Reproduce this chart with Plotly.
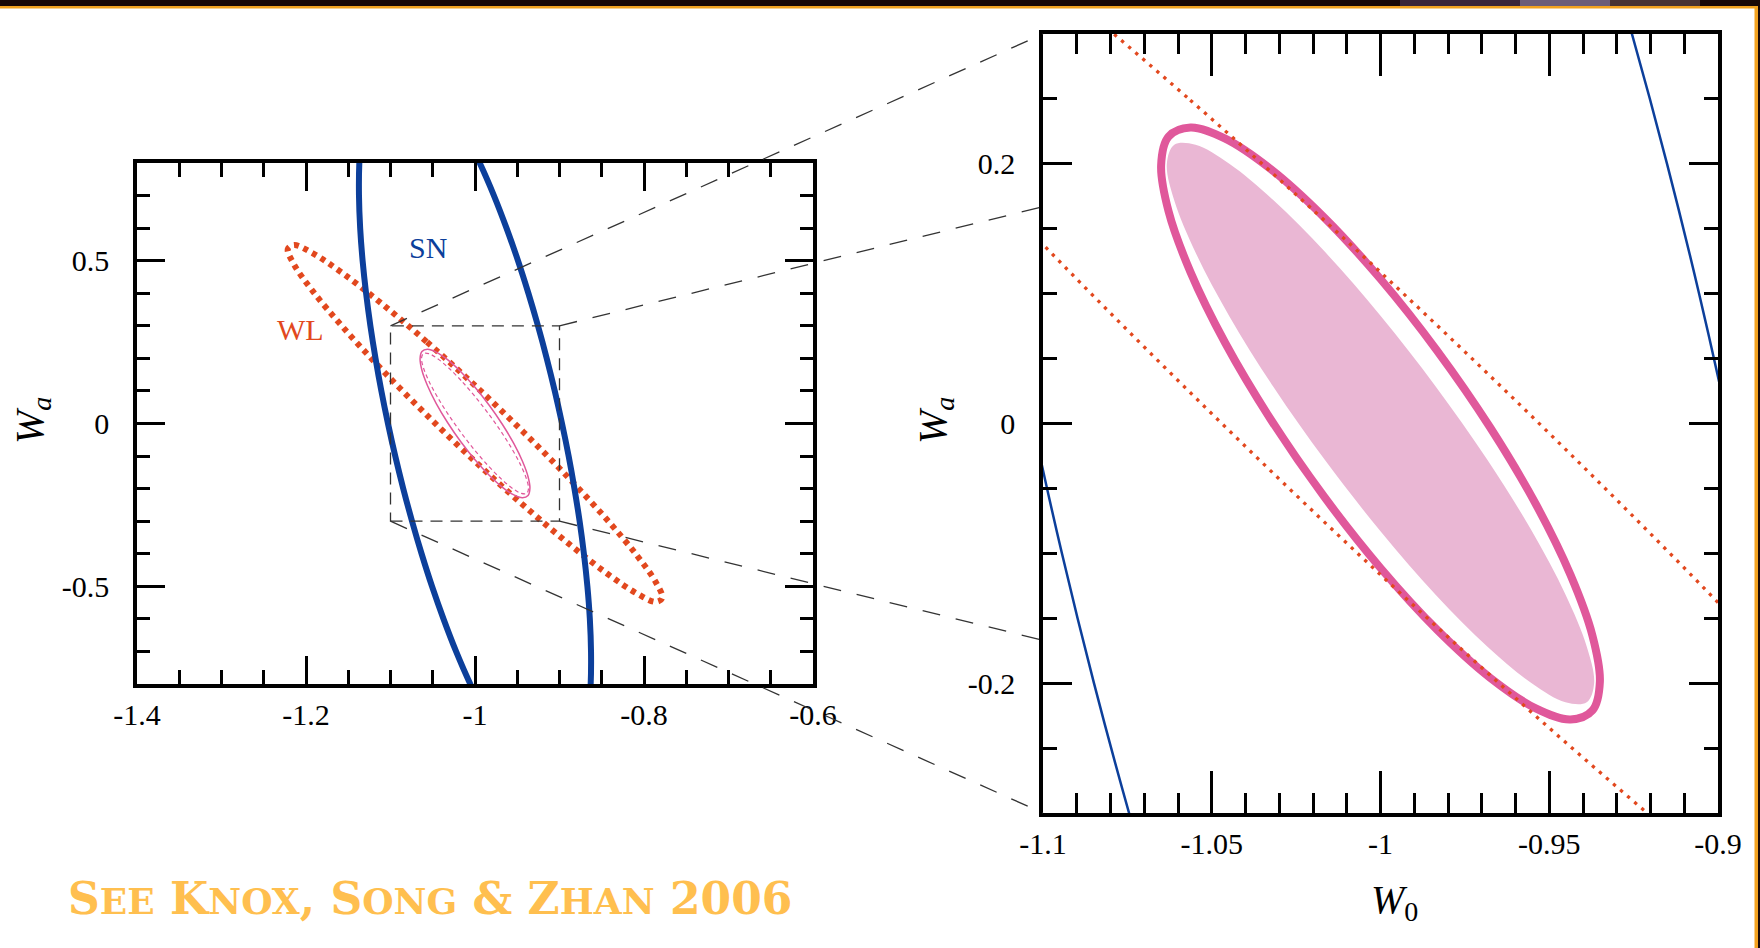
import plotly.graph_objects as go

# --- DATA (w0 on x, wa on y) ---
ZOOM_W0 = [-1.1, -0.9]  # zoom window on the left panel = ranges of the right panel
ZOOM_WA = [-0.3, 0.3]
LEFT_W0 = [-1.4, -0.6]
LEFT_WA = [-0.8, 0.8]

# SN: two long flanks of a very thin ellipse (its tips fall outside the plot)
sn_wa = [0.9, 0.8, 0.7, 0.6, 0.5, 0.4, 0.3, 0.2, 0.1, 0.0,
         -0.1, -0.2, -0.3, -0.4, -0.5, -0.6, -0.7, -0.8, -0.9]
sn_left_w0 = [-1.134, -1.1369, -1.1373, -1.1359, -1.133, -1.1289, -1.1238, -1.1177, -1.1108, -1.103,
              -1.0944, -1.0849, -1.0745, -1.0632, -1.0509, -1.0373, -1.0224, -1.0056, -0.9862]
sn_right_w0 = [-1.0138, -0.9944, -0.9776, -0.9627, -0.9491, -0.9368, -0.9255, -0.9151, -0.9056, -0.897,
               -0.8892, -0.8823, -0.8762, -0.8711, -0.867, -0.8641, -0.8627, -0.8631, -0.866]

# WL contour
wl_w0 = [-1.0, -1.0573, -1.1108, -1.1566, -1.1918, -1.214, -1.2215, -1.214, -1.1918, -1.1566,
         -1.1108, -1.0573, -1.0, -0.9427, -0.8892, -0.8434, -0.8082, -0.786, -0.7785, -0.786,
         -0.8082, -0.8434, -0.8892, -0.9427, -1.0]
wl_wa = [0.1165, 0.2512, 0.3689, 0.4614, 0.5225, 0.5479, 0.536, 0.4876, 0.4059, 0.2966,
         0.1671, 0.0262, -0.1165, -0.2512, -0.3689, -0.4614, -0.5225, -0.5479, -0.536, -0.4876,
         -0.4059, -0.2966, -0.1671, -0.0262, 0.1165]

# combined SN+WL contour (solid / thick pink)
comb_w0 = [-1.0, -1.0168, -1.0325, -1.046, -1.0563, -1.0628, -1.065, -1.0628, -1.0563, -1.046,
           -1.0325, -1.0168, -1.0, -0.9832, -0.9675, -0.954, -0.9437, -0.9372, -0.935, -0.9372,
           -0.9437, -0.954, -0.9675, -0.9832, -1.0]
comb_wa = [0.1113, 0.159, 0.1959, 0.2194, 0.228, 0.221, 0.199, 0.1634, 0.1166, 0.062,
           0.0031, -0.056, -0.1113, -0.159, -0.1959, -0.2194, -0.228, -0.221, -0.199, -0.1634,
           -0.1166, -0.062, -0.0031, 0.056, 0.1113]

# second combined contour (dashed on the left, filled on the right)
comb2_w0 = [-1.0, -1.0164, -1.0317, -1.0448, -1.0548, -1.0611, -1.0633, -1.0611, -1.0548, -1.0448,
            -1.0317, -1.0164, -1.0, -0.9836, -0.9683, -0.9552, -0.9452, -0.9389, -0.9367, -0.9389,
            -0.9452, -0.9552, -0.9683, -0.9836, -1.0]
comb2_wa = [0.083, 0.132, 0.1719, 0.2001, 0.2147, 0.2147, 0.2, 0.1717, 0.1317, 0.0827,
            0.0281, -0.0284, -0.083, -0.132, -0.1719, -0.2001, -0.2147, -0.2147, -0.2, -0.1717,
            -0.1317, -0.0827, -0.0281, 0.0284, 0.083]

left_xticks = [-1.4, -1.2, -1.0, -0.8, -0.6]
left_xlabels = ["-1.4", "-1.2", "-1", "-0.8", "-0.6"]
left_yticks = [-0.5, 0, 0.5]
left_ylabels = ["-0.5", "0", "0.5"]
right_xticks = [-1.1, -1.05, -1.0, -0.95, -0.9]
right_xlabels = ["-1.1", "-1.05", "-1", "-0.95", "-0.9"]
right_yticks = [-0.2, 0, 0.2]
right_ylabels = ["-0.2", "0", "0.2"]

# where the zoom connectors land on the right panel's left edge
connector_wa = [0.3, 0.167, -0.167, -0.3]

# --- STYLE / LAYOUT ---
FW, FH = 1760, 948
LEFT_PX = (137, 813, 163, 684)  # left, right, top, bottom (pixels)
RIGHT_PX = (1043, 1718, 34, 813)
BLUE = "#0c3f9b"
ORANGE = "#e2481e"
PINK = "#e0589b"
PINK_FILL = "#eab7d4"
SERIF = "Liberation Serif"


def xdom(box):
    return [box[0] / FW, box[1] / FW]


def ydom(box):
    return [1 - box[3] / FH, 1 - box[2] / FH]


def to_paper(x, y, box, xr, yr):
    px = box[0] + (x - xr[0]) / (xr[1] - xr[0]) * (box[1] - box[0])
    py = box[3] - (y - yr[0]) / (yr[1] - yr[0]) * (box[3] - box[2])
    return px / FW, 1 - py / FH


def frame(dom, rng, vals, labels, tlen, mlen, mdt, standoff):
    return dict(
        domain=dom, range=rng, tickmode="array", tickvals=vals, ticktext=labels,
        showline=True, linecolor="black", linewidth=3.5, mirror="allticks",
        ticks="inside", ticklen=tlen, tickwidth=3, tickcolor="black",
        minor=dict(ticks="inside", dtick=mdt, tick0=0, ticklen=mlen, tickwidth=3, tickcolor="black"),
        showgrid=False, zeroline=False, ticklabelstandoff=standoff, automargin=False,
        tickfont=dict(family=SERIF, size=30, color="black"),
    )


fig = go.Figure()


def add(x, y, axes, **kw):
    fig.add_trace(go.Scatter(x=x, y=y, mode="lines", xaxis=axes[0], yaxis=axes[1],
                             hoverinfo="skip", showlegend=False, **kw))


L = ("x", "y")
R = ("x2", "y2")

# left panel
add(wl_w0, wl_wa, L, line=dict(color=ORANGE, width=6, dash="5px,5px", shape="spline"))
add(sn_left_w0, sn_wa, L, line=dict(color=BLUE, width=6, shape="spline"))
add(sn_right_w0, sn_wa, L, line=dict(color=BLUE, width=6, shape="spline"))
add(comb_w0, comb_wa, L, line=dict(color=PINK, width=1.5, shape="spline"))
add(comb2_w0, comb2_wa, L, line=dict(color=PINK, width=1.2, dash="4px,3px", shape="spline"))

# right panel
add(comb2_w0, comb2_wa, R, fill="toself", fillcolor=PINK_FILL,
    line=dict(color=PINK_FILL, width=0, shape="spline"))
add(comb_w0, comb_wa, R, line=dict(color=PINK, width=8, shape="spline"))
add(wl_w0, wl_wa, R, line=dict(color=ORANGE, width=3.3, dash="3.3px,6px", shape="spline"))
add(sn_left_w0, sn_wa, R, line=dict(color=BLUE, width=2.5, shape="spline"))
add(sn_right_w0, sn_wa, R, line=dict(color=BLUE, width=2.5, shape="spline"))

shapes = []
# slide frame: dark strip on top, orange rules
shapes.append(dict(type="rect", xref="paper", yref="paper", x0=0, x1=1, y0=1 - 6 / FH, y1=1,
                   fillcolor="#1a0806", line=dict(width=0), layer="below"))
for x0, x1, c in [(1400, 1520, "#3c2538"), (1520, 1610, "#6d5d78"), (1610, 1700, "#4a3434")]:
    shapes.append(dict(type="rect", xref="paper", yref="paper", x0=x0 / FW, x1=x1 / FW,
                       y0=1 - 6 / FH, y1=1, fillcolor=c, line=dict(width=0), layer="below"))
shapes.append(dict(type="rect", xref="paper", yref="paper", x0=0, x1=1758 / FW,
                   y0=1 - 8.5 / FH, y1=1 - 6 / FH, fillcolor="#f3a21f", line=dict(width=0)))
shapes.append(dict(type="rect", xref="paper", yref="paper", x0=1754.5 / FW, x1=1758 / FW,
                   y0=0, y1=1 - 6 / FH, fillcolor="#f3a21f", line=dict(width=0)))
shapes.append(dict(type="rect", xref="paper", yref="paper", x0=1758 / FW, x1=1,
                   y0=0, y1=1, fillcolor="#1a0806", line=dict(width=0)))

# zoom window on the left panel
shapes.append(dict(type="rect", xref="x", yref="y", x0=ZOOM_W0[0], x1=ZOOM_W0[1],
                   y0=ZOOM_WA[0], y1=ZOOM_WA[1], line=dict(color="#333", width=1.3, dash="12px,8px")))
# connectors from its corners to the right panel
corners = [(ZOOM_W0[0], ZOOM_WA[1]), (ZOOM_W0[1], ZOOM_WA[1]),
           (ZOOM_W0[1], ZOOM_WA[0]), (ZOOM_W0[0], ZOOM_WA[0])]
for (cx, cy), ty in zip(corners, connector_wa):
    x0, y0 = to_paper(cx, cy, LEFT_PX, LEFT_W0, LEFT_WA)
    x1, y1 = to_paper(ZOOM_W0[0], ty, RIGHT_PX, ZOOM_W0, ZOOM_WA)
    shapes.append(dict(type="line", xref="paper", yref="paper", x0=x0, y0=y0, x1=x1, y1=y1,
                       line=dict(color="#333", width=1.3, dash="18px,16px")))

ann = []
title_font = dict(family=SERIF, size=40, color="black")
ann.append(dict(text="<i>W<sub>a</sub></i>", x=32 / FW, y=1 - 421 / FH, textangle=-90,
                font=title_font))
ann.append(dict(text="<i>W<sub>a</sub></i>", x=935 / FW, y=1 - 421 / FH, textangle=-90,
                font=title_font))
ann.append(dict(text="<i>W</i><sub>0</sub>", x=1394 / FW, y=1 - 902 / FH, font=title_font))
ann.append(dict(text="SN", x=-1.056, y=0.542, xref="x", yref="y",
                font=dict(family=SERIF, size=30, color=BLUE)))
ann.append(dict(text="WL", x=-1.206, y=0.29, xref="x", yref="y",
                font=dict(family=SERIF, size=30, color=ORANGE)))
sm = "<span style='font-size:36px'>%s</span>"
footer = ("S" + sm % "EE" + " K" + sm % "NOX" + ", S" + sm % "ONG" + " &amp; Z" + sm % "HAN" + " 2006")
ann.append(dict(text=footer, x=66 / FW, y=1 - 898 / FH, xanchor="left", yanchor="middle",
                font=dict(family="DejaVu Serif", size=44, color="#ffbf4f", weight="bold")))
for a in ann:
    a.setdefault("xref", "paper")
    a.setdefault("yref", "paper")
    a.setdefault("xanchor", "center")
    a.setdefault("yanchor", "middle")
    a["showarrow"] = False

fig.update_layout(
    template="none",
    width=FW, height=FH, autosize=False,
    margin=dict(l=0, r=0, t=0, b=0, pad=0, autoexpand=False),
    paper_bgcolor="white", plot_bgcolor="white",
    showlegend=False,
    xaxis=frame(xdom(LEFT_PX), LEFT_W0, left_xticks, left_xlabels, 28, 14, 0.05, 1),
    yaxis=frame(ydom(LEFT_PX), LEFT_WA, left_yticks, left_ylabels, 28, 13, 0.1, 18),
    xaxis2=frame(xdom(RIGHT_PX), ZOOM_W0, right_xticks, right_xlabels, 42, 20, 0.01, 1),
    yaxis2=frame(ydom(RIGHT_PX), ZOOM_WA, right_yticks, right_ylabels, 29, 14, 0.05, 18),
    shapes=shapes,
    annotations=ann,
)
fig.update_layout(xaxis2=dict(anchor="y2"), yaxis2=dict(anchor="x2"))

fig.write_html("out.html", config={"displayModeBar": False},
               post_script="document.body.style.margin='0px';")
